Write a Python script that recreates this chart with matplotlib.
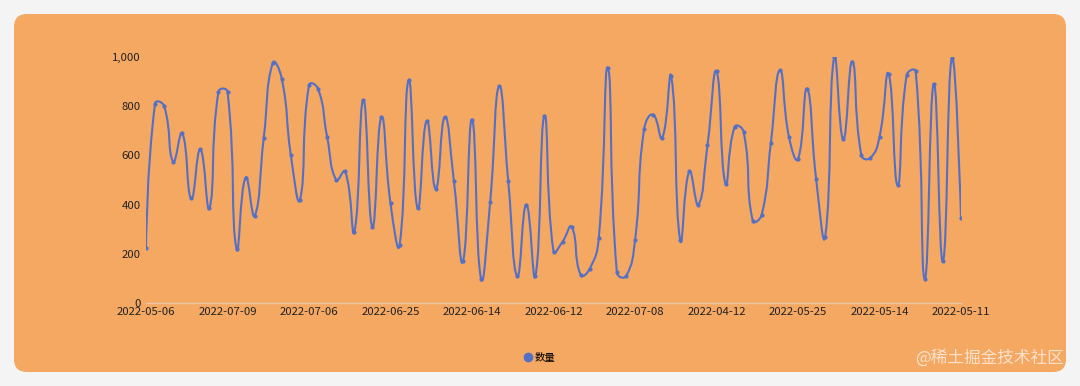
import numpy as np
import matplotlib
matplotlib.use("Agg")
import matplotlib.pyplot as plt
from matplotlib.path import Path
from matplotlib.patches import PathPatch, FancyBboxPatch
from matplotlib.lines import Line2D

plt.rcParams['font.family'] = ['Noto Sans CJK SC', 'DejaVu Sans']

# ---- data ----
values = [225, 810, 800, 575, 690, 425, 624, 385, 858, 858,
          220, 510, 355, 670, 975, 910, 600, 420, 885, 870,
          675, 500, 535, 290, 825, 310, 755, 405, 235, 905,
          385, 740, 465, 755, 495, 170, 745, 100, 410, 880,
          495, 110, 400, 110, 760, 210, 250, 310, 115, 140,
          265, 955, 125, 110, 255, 705, 765, 670, 920, 255,
          535, 400, 640, 940, 485, 715, 695, 335, 360, 650,
          945, 675, 585, 870, 505, 270, 1000, 665, 980, 600,
          590, 675, 930, 480, 925, 940, 100, 890, 170, 995,
          345]
tick_labels = ['2022-05-06', '2022-07-09', '2022-07-06', '2022-06-25',
               '2022-06-14', '2022-06-12', '2022-07-08', '2022-04-12',
               '2022-05-25', '2022-05-14', '2022-05-11']
tick_step = 9
series_name = '数量'
y_ticks = [0, 200, 400, 600, 800, 1000]

LINE = '#5470c6'
BG = '#f4a862'

W, H, DPI = 1080, 386, 100
fig = plt.figure(figsize=(W / DPI, H / DPI), dpi=DPI)
fig.patch.set_facecolor('#f4f4f4')

card = FancyBboxPatch((14 / W, 14 / H), (1066 - 14) / W, (372 - 14) / H,
                      boxstyle="round,pad=0,rounding_size=0.012",
                      transform=fig.transFigure, facecolor=BG,
                      edgecolor='none', zorder=-10, mutation_aspect=W / H)
fig.patches.append(card)

left, right = 146 / W, 961 / W
bottom, top = (H - 303.3) / H, (H - 56.7) / H
ax = fig.add_axes([left, bottom, right - left, top - bottom])
ax.set_facecolor('none')
ax.set_zorder(5)

n = len(values)
x = np.arange(n)
ax.set_xlim(0, n - 1)
ax.set_ylim(0, 1000)

# smooth curve (ECharts-like bezier, computed in display space)
pts = ax.transData.transform(np.column_stack([x, values]))
smooth = 0.5
cps_next, cps_prev = [], []
for i in range(n):
    p = pts[i]
    if i == 0 or i == n - 1:
        cps_next.append(p.copy())
        cps_prev.append(p.copy())
        continue
    pp, pn = pts[i - 1], pts[i + 1]
    v = pn - pp
    l0 = np.hypot(*(p - pp))
    l1 = np.hypot(*(pn - p))
    r = l1 / (l0 + l1) if (l0 + l1) > 0 else 0.5
    cps_next.append(p + v * smooth * r)
    cps_prev.append(p - v * smooth * (1 - r))
verts = [tuple(pts[0])]
codes = [Path.MOVETO]
for i in range(n - 1):
    verts += [tuple(cps_next[i]), tuple(cps_prev[i + 1]), tuple(pts[i + 1])]
    codes += [Path.CURVE4] * 3
data_verts = ax.transData.inverted().transform(np.array(verts))
path = Path(data_verts, codes)
patch = PathPatch(path, facecolor='none', edgecolor=LINE, lw=1.5,
                  zorder=3, capstyle='round', joinstyle='round')
ax.add_patch(patch)
ax.plot(x, values, linestyle='none', marker='o', ms=2.0, color=LINE, zorder=4)
ax.set_xlim(0, n - 1)
ax.set_ylim(0, 1000)

# axes styling
for s in ['top', 'right', 'left']:
    ax.spines[s].set_visible(False)
ax.spines['bottom'].set_color('#e8c8a8')
ax.spines['bottom'].set_linewidth(1.0)
ax.set_yticks(y_ticks)
ax.set_yticklabels([f'{v:,}' for v in y_ticks])
ax.set_xticks(x[::tick_step])
ax.set_xticklabels(tick_labels)
ax.tick_params(axis='y', length=0, pad=4, labelsize=8.2, labelcolor='#222222')
ax.tick_params(axis='x', length=0, pad=3, labelsize=8.2, labelcolor='#222222')

# legend
handle = Line2D([], [], linestyle='none', marker='o', ms=6, color=LINE)
fig.legend([handle], [series_name], loc='center', bbox_to_anchor=(539 / W, 1 - 358 / H),
           frameon=False, fontsize=7.5, handletextpad=0.15, handlelength=1.0)

# watermark
fig.text(1064 / W, 1 - 358 / H, '@稀土掘金技术社区', ha='right', va='center',
         fontsize=12, color='#fbe9da', alpha=0.9)

fig.savefig('out.png', dpi=DPI, facecolor=fig.get_facecolor())
